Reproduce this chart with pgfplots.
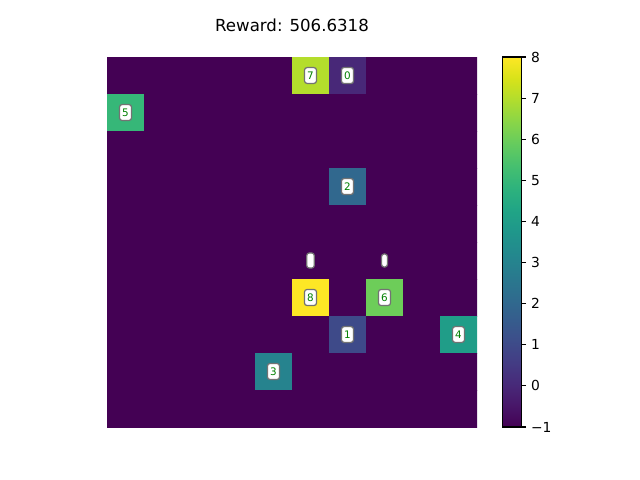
\documentclass[border=0pt]{standalone}
\usepackage{pgfplots}
\pgfplotsset{compat=1.18}
\usepackage{fontspec}
\setmainfont{DejaVu Sans}
\pgfplotstableread{
x y c
0 0 -1
1 0 -1
2 0 -1
3 0 -1
4 0 -1
5 0 7
6 0 0
7 0 -1
8 0 -1
9 0 -1
0 1 5
1 1 -1
2 1 -1
3 1 -1
4 1 -1
5 1 -1
6 1 -1
7 1 -1
8 1 -1
9 1 -1
0 2 -1
1 2 -1
2 2 -1
3 2 -1
4 2 -1
5 2 -1
6 2 -1
7 2 -1
8 2 -1
9 2 -1
0 3 -1
1 3 -1
2 3 -1
3 3 -1
4 3 -1
5 3 -1
6 3 2
7 3 -1
8 3 -1
9 3 -1
0 4 -1
1 4 -1
2 4 -1
3 4 -1
4 4 -1
5 4 -1
6 4 -1
7 4 -1
8 4 -1
9 4 -1
0 5 -1
1 5 -1
2 5 -1
3 5 -1
4 5 -1
5 5 -1
6 5 -1
7 5 -1
8 5 -1
9 5 -1
0 6 -1
1 6 -1
2 6 -1
3 6 -1
4 6 -1
5 6 8
6 6 -1
7 6 6
8 6 -1
9 6 -1
0 7 -1
1 7 -1
2 7 -1
3 7 -1
4 7 -1
5 7 -1
6 7 1
7 7 -1
8 7 -1
9 7 4
0 8 -1
1 8 -1
2 8 -1
3 8 -1
4 8 3
5 8 -1
6 8 -1
7 8 -1
8 8 -1
9 8 -1
0 9 -1
1 9 -1
2 9 -1
3 9 -1
4 9 -1
5 9 -1
6 9 -1
7 9 -1
8 9 -1
9 9 -1
}\gridtable
\pgfplotstableread{
x y label
5 0 7
6 0 0
0 1 5
6 3 2
5 5 \phantom{\rule{1.5pt}{5pt}}
7 5 \phantom{\rule{0.3pt}{3.5pt}}
5 6 8
7 6 6
6 7 1
9 7 4
4 8 3
}\labeltable
\begin{document}
\begin{tikzpicture}
\path[use as bounding box] (0,0) rectangle (6.4in,4.8in);
\begin{axis}[
  at={(1.07in,0.53in)}, anchor=south west,
  width=3.7in, height=3.7in, scale only axis,
  xmin=-0.5, xmax=9.5, ymin=-0.5, ymax=9.5, y dir=reverse,
  xtick=\empty, ytick=\empty,
  axis line style={draw=none},
  colormap name=viridis,
  point meta min=-1, point meta max=8,
  title={Reward: 506.6318},
  title style={font=\fontsize{12}{14}\selectfont, at={(0.5,1)}, anchor=center, yshift=0.23in},
  colorbar,
  colorbar style={
    at={(parent axis.north east)}, anchor=north west, xshift=0.14in,
    width=0.185in,
    axis line style={draw=black, line width=0.8pt},
    ytick={-1,0,1,2,3,4,5,6,7,8},
    yticklabels={−1,0,1,2,3,4,5,6,7,8},
    ytick pos=right, yticklabel pos=right,
    tick align=outside, major tick length=3.5pt,
    every tick/.style={black, line width=0.8pt},
    yticklabel style={font=\fontsize{10}{12}\selectfont},
    tick label style={font=\fontsize{10}{12}\selectfont},
  },
]
\addplot[matrix plot*, mesh/cols=10, point meta=explicit] table[x=x, y=y, meta=c] {\gridtable};
\addplot[only marks, mark=none, nodes near coords, point meta=explicit symbolic,
  nodes near coords align=center,
  every node near coord/.style={anchor=center, fill=white, draw=black!55, line width=0.9pt,
    rounded corners=2pt, text=green!50!black, font=\fontsize{7.5}{8}\selectfont,
    inner xsep=2pt, inner ysep=3pt}]
  table[x=x, y=y, meta=label] {\labeltable};
\end{axis}
\end{tikzpicture}
\end{document}
